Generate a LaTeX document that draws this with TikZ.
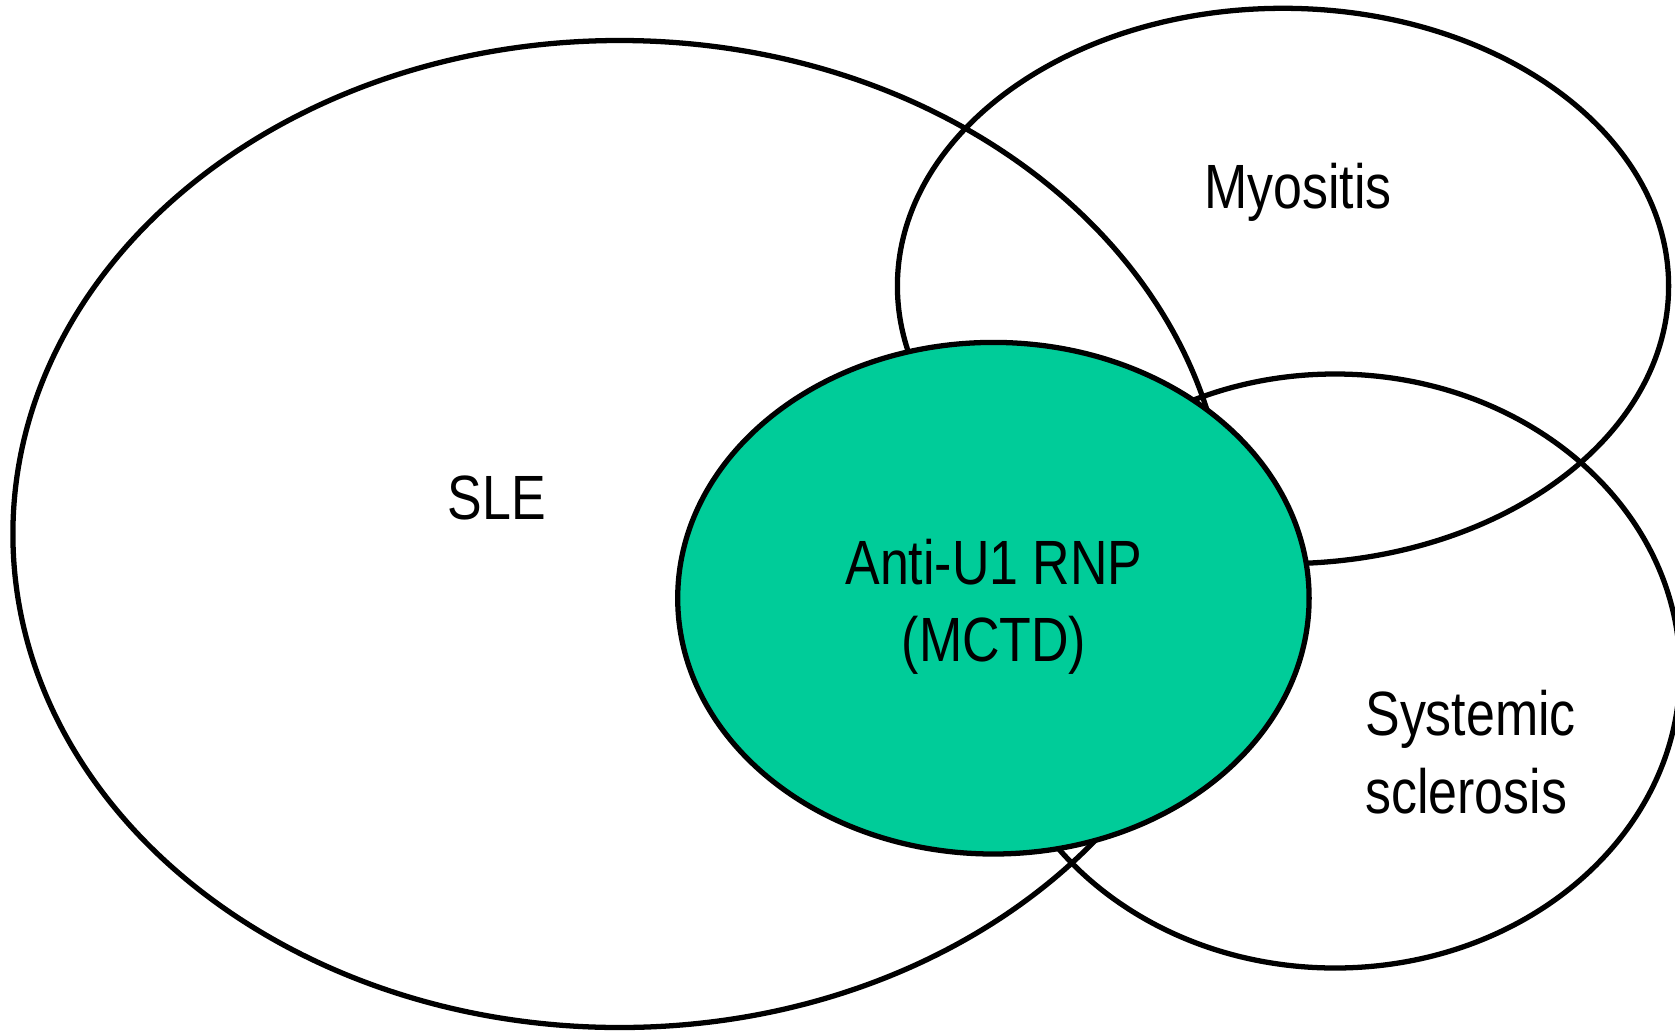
\documentclass[tikz,border=0pt]{standalone}
\usepackage{fontspec}
\setmainfont{Liberation Sans}[FakeStretch=0.83]
\definecolor{mctdgreen}{HTML}{00CC99}
\begin{document}
\begin{tikzpicture}[x=0.02cm,y=-0.02cm,
  ring/.style={draw=black,line width=3pt},
  lbl/.style={font=\fontsize{35.6}{44}\selectfont,inner sep=0pt,text=black}]
\useasboundingbox (0,0) rectangle (1675,1031);
\fill[white] (0,0) rectangle (1675,1031);
\coordinate (sle) at (619.6,534);
\coordinate (myo) at (1283,286);
\coordinate (ssc) at (1335,671);
\coordinate (mctd) at (993.4,598.2);
\draw[ring] (sle) ellipse [x radius=606.7, y radius=493.5];
\draw[ring] (myo) ellipse [x radius=385.6, y radius=277.7];
\draw[ring] (ssc) ellipse [x radius=345, y radius=297];
\draw[ring,fill=mctdgreen] (mctd) ellipse [x radius=315.7, y radius=255.8];
\node[lbl] (tsle) at (497,498) {SLE};
\node[lbl] (tmyo) at (1298,192) {Myositis};
\node[lbl,align=center] (tmctd) at (994,607) {Anti-U1 RNP\\(MCTD)};
\node[lbl,align=left,anchor=west] (tssc) at (1365,752) {Systemic\\sclerosis};
\end{tikzpicture}
\end{document}
